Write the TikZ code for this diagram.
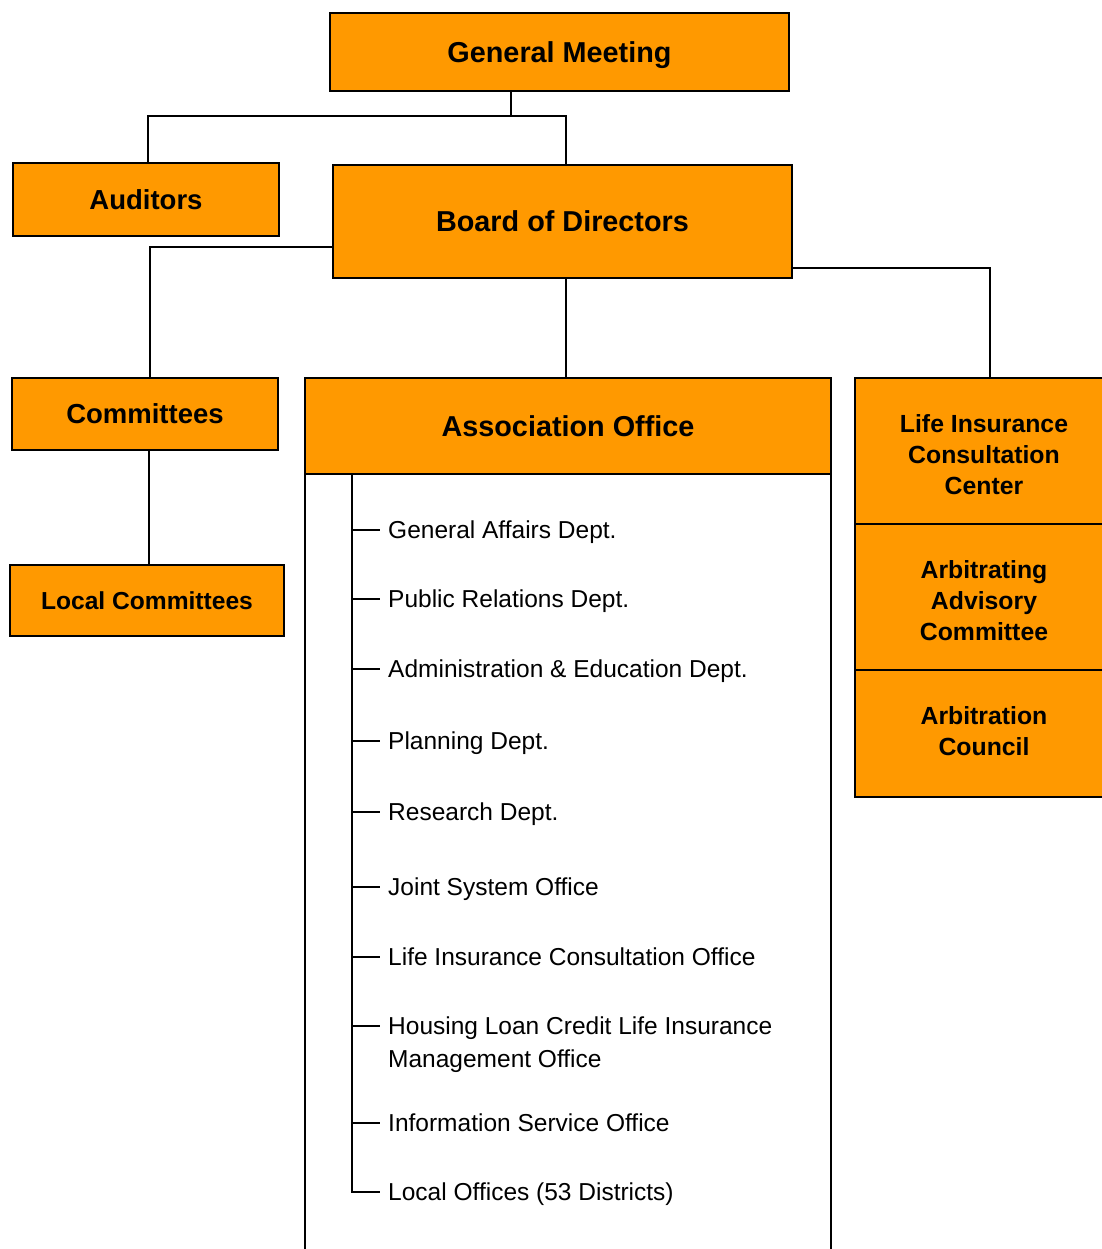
\documentclass[tikz,border=0pt]{standalone}
\usepackage{fontspec}
\setmainfont{Liberation Sans}
\definecolor{boxorange}{RGB}{255,153,0}
\begin{document}
\begin{tikzpicture}[x=1pt,y=-1pt,
  obox/.style={draw=black,line width=2.2pt,fill=boxorange,inner sep=0pt,align=center,font=\bfseries},
  conn/.style={draw=black,line width=2.2pt},
  tick/.style={draw=black,line width=1.8pt},
  item/.style={anchor=west,inner sep=0pt,align=left,text height=17.5pt,text depth=0pt,font=\fontsize{24.5}{33}\selectfont}]
\useasboundingbox (0,0) rectangle (1101,1249);
\fill[white] (0,0) rectangle (1101,1249);
% boxes
\node[obox,minimum width=459pt,minimum height=78pt,text depth=0pt,font=\bfseries\fontsize{28.8}{32}\selectfont] (gm) at (559.5,52) {General Meeting};
\node[obox,minimum width=266pt,minimum height=73pt,text depth=0pt,font=\bfseries\fontsize{27.5}{32}\selectfont] (aud) at (146,199.5) {Auditors};
\node[obox,minimum width=459pt,minimum height=113pt,text depth=0pt,font=\bfseries\fontsize{28.8}{32}\selectfont] (bod) at (562.5,221.5) {Board of Directors};
\node[obox,minimum width=266pt,minimum height=72pt,text depth=0pt,font=\bfseries\fontsize{27.5}{32}\selectfont] (com) at (145,414) {Committees};
\node[obox,minimum width=274pt,minimum height=71pt,text depth=0pt,font=\bfseries\fontsize{24.6}{30}\selectfont] (loc) at (147,600.5) {Local Committees};
% association office body and header
\draw[line width=2.2pt,fill=white] (305,474) rectangle (831,1270);
\node[obox,minimum width=526pt,minimum height=96pt,text depth=0pt,font=\bfseries\fontsize{28.8}{32}\selectfont] (ao) at (568,426) {Association Office};
% right column
\node[obox,minimum width=258pt,minimum height=146pt,text height=86pt,text depth=0pt,font=\bfseries\fontsize{24.8}{31}\selectfont] (r1) at (984,451) {Life Insurance\\Consultation\\Center};
\node[obox,minimum width=258pt,minimum height=146pt,text height=86pt,text depth=0pt,font=\bfseries\fontsize{24.8}{31}\selectfont] (r2) at (984,597) {Arbitrating\\Advisory\\Committee};
\node[obox,minimum width=258pt,minimum height=127pt,text height=43pt,text depth=0pt,font=\bfseries\fontsize{24.8}{31}\selectfont] (r3) at (984,733.5) {Arbitration\\Council};
% connectors
\coordinate (t1) at (511,116);
\draw[conn] (gm.south -| t1) -- (t1);
\draw[conn] ([xshift=2pt]aud.north) |- (t1) -| ([xshift=3.5pt]bod.north);
\draw[conn] ([yshift=-25.5pt]bod.west) -| ([xshift=5pt]com.north);
\draw[conn] ([xshift=3.5pt]bod.south) -- ([xshift=3.5pt]bod.south |- ao.north);
\draw[conn] ([yshift=-46.5pt]bod.east) -| ([xshift=6pt]r1.north);
\draw[conn] ([xshift=4pt]com.south) -- ([xshift=4pt]com.south |- loc.north);
% department list
\coordinate (vt) at (352,474);
\node[item] (d1) at (388,530) {General Affairs Dept.};
\node[item] (d2) at (388,599) {Public Relations Dept.};
\node[item] (d3) at (388,669) {Administration \& Education Dept.};
\node[item] (d4) at (388,741) {Planning Dept.};
\node[item] (d5) at (388,812) {Research Dept.};
\node[item] (d6) at (388,887) {Joint System Office};
\node[item] (d7) at (388,957) {Life Insurance Consultation Office};
\node[item,text height={},text depth={}] (d8) at (388,1044.5) {Housing Loan Credit Life Insurance\\Management Office};
\node[item] (d9) at (388,1123) {Information Service Office};
\node[item] (d10) at (388,1192) {Local Offices (53 Districts)};
\draw[tick] (vt) |- ([xshift=-8pt]d10.west);
\foreach \d in {d1,d2,d3,d4,d5,d6,d7,d9}
  \draw[tick] (\d.west -| vt) -- ([xshift=-8pt]\d.west);
\draw[tick] ([yshift=18.5pt]d8.west -| vt) -- ([xshift=-8pt,yshift=18.5pt]d8.west);
\end{tikzpicture}
\end{document}
